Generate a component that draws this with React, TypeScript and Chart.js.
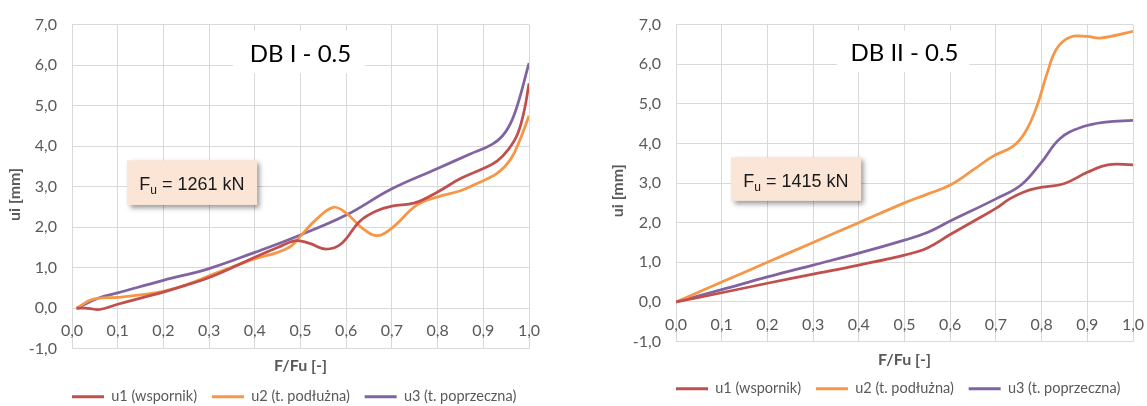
import React, { useEffect, useRef } from 'react';
import { Chart, registerables } from 'chart.js';

Chart.register(...registerables);

// ---------- data ----------
const seriesNames = ['u1 (wspornik)', 'u2 (t. podłużna)', 'u3 (t. poprzeczna)'];
const chartTitles = ['DB I - 0.5', 'DB II - 0.5'];
const fuValues = ['1261 kN', '1415 kN'];
const xAxisTitle = 'F/Fu [-]';
const yAxisTitle = 'ui [mm]';
const xTickValues = [0, 0.1, 0.2, 0.3, 0.4, 0.5, 0.6, 0.7, 0.8, 0.9, 1.0];
const yTickValues = [-1, 0, 1, 2, 3, 4, 5, 6, 7];

// DB I - 0.5
const dbI_u1_x = [0.01, 0.035, 0.06, 0.1, 0.15, 0.2, 0.25, 0.3, 0.35, 0.4, 0.45, 0.49, 0.52, 0.556, 0.59, 0.63, 0.67, 0.7, 0.75, 0.8, 0.85, 0.9, 0.93, 0.955, 0.975, 0.99, 1.0];
const dbI_u1_y = [0, 0, -0.03, 0.1, 0.25, 0.4, 0.57, 0.76, 1.0, 1.26, 1.5, 1.67, 1.6, 1.46, 1.6, 2.15, 2.42, 2.52, 2.6, 2.87, 3.2, 3.45, 3.63, 3.92, 4.3, 4.9, 5.55];
const dbI_u2_x = [0.01, 0.045, 0.1, 0.15, 0.2, 0.25, 0.3, 0.35, 0.4, 0.45, 0.48, 0.5, 0.535, 0.572, 0.6, 0.635, 0.667, 0.7, 0.755, 0.8, 0.85, 0.88, 0.93, 0.96, 0.98, 1.0];
const dbI_u2_y = [0, 0.22, 0.27, 0.33, 0.42, 0.58, 0.8, 1.02, 1.22, 1.38, 1.54, 1.78, 2.2, 2.49, 2.35, 1.98, 1.79, 1.98, 2.55, 2.75, 2.9, 3.05, 3.33, 3.68, 4.15, 4.75];
const dbI_u3_x = [0.01, 0.06, 0.1, 0.2, 0.3, 0.4, 0.5, 0.6, 0.7, 0.8, 0.87, 0.92, 0.948, 0.97, 1.0];
const dbI_u3_y = [0, 0.26, 0.38, 0.69, 0.98, 1.38, 1.81, 2.3, 2.95, 3.45, 3.8, 4.05, 4.34, 4.85, 6.05];

// DB II - 0.5
const dbII_u1_x = [0, 0.1, 0.2, 0.3, 0.4, 0.5, 0.55, 0.6, 0.65, 0.7, 0.73, 0.76, 0.79, 0.85, 0.9, 0.945, 1.0];
const dbII_u1_y = [0, 0.23, 0.47, 0.7, 0.93, 1.18, 1.36, 1.7, 2.03, 2.36, 2.6, 2.77, 2.87, 2.99, 3.27, 3.46, 3.46];
const dbII_u2_x = [0, 0.1, 0.2, 0.3, 0.4, 0.5, 0.55, 0.6, 0.65, 0.694, 0.738, 0.765, 0.79, 0.812, 0.833, 0.862, 0.9, 0.928, 1.0];
const dbII_u2_y = [0, 0.5, 1.0, 1.5, 2.0, 2.5, 2.72, 2.95, 3.33, 3.68, 3.93, 4.3, 4.95, 5.77, 6.39, 6.68, 6.7, 6.66, 6.83];
const dbII_u3_x = [0, 0.1, 0.2, 0.3, 0.4, 0.5, 0.55, 0.6, 0.7, 0.755, 0.8, 0.84, 0.89, 0.94, 1.0];
const dbII_u3_y = [0, 0.31, 0.63, 0.93, 1.23, 1.56, 1.75, 2.04, 2.6, 2.95, 3.53, 4.12, 4.42, 4.54, 4.58];

// ---------- styles ----------
const seriesColors = ['#C0504D', '#F79646', '#8064A2'];
const GRID = '#D9D9D9';
const TEXT = '#595959';
const FONT = 'Lato';

const zip = (xs: number[], ys: number[]) => xs.map((x, i) => ({ x, y: ys[i] }));
const fmt = (v: number) => v.toFixed(1).replace('.', ',');

const annotPlugin = {
  id: 'annot',
  beforeDatasetsDraw(chart: any, _args: any, opts: any) {
    const { ctx } = chart;
    const xs = chart.scales.x;
    const ys = chart.scales.y;
    ctx.save();
    // title box
    const tx0 = xs.getPixelForValue(0.352);
    const tx1 = xs.getPixelForValue(0.642);
    const ty0 = ys.getPixelForValue(6.85);
    const ty1 = ys.getPixelForValue(5.8);
    ctx.fillStyle = '#ffffff';
    ctx.fillRect(tx0, ty0, tx1 - tx0, ty1 - ty0);
    ctx.fillStyle = '#000000';
    ctx.font = `24px ${FONT}`;
    ctx.textAlign = 'center';
    ctx.textBaseline = 'middle';
    ctx.fillText(opts.title, xs.getPixelForValue(0.5), ys.getPixelForValue(6.27));

    // Fu box
    const bx0 = xs.getPixelForValue(0.12);
    const bx1 = xs.getPixelForValue(0.405);
    const by0 = ys.getPixelForValue(3.65);
    const by1 = ys.getPixelForValue(2.55);
    ctx.save();
    ctx.shadowColor = 'rgba(0,0,0,0.4)';
    ctx.shadowBlur = 5;
    ctx.shadowOffsetX = 3;
    ctx.shadowOffsetY = 3;
    ctx.fillStyle = '#FBE5D6';
    ctx.fillRect(bx0, by0, bx1 - bx0, by1 - by0);
    ctx.restore();

    const big = `18px "Liberation Sans", Arial, sans-serif`;
    const small = `12px "Liberation Sans", Arial, sans-serif`;
    const rest = ' = ' + opts.fu;
    ctx.textAlign = 'left';
    ctx.textBaseline = 'alphabetic';
    ctx.font = big;
    const wF = ctx.measureText('F').width;
    const wR = ctx.measureText(rest).width;
    ctx.font = small;
    const wU = ctx.measureText('u').width;
    const total = wF + wU + wR;
    const cx = (bx0 + bx1) / 2;
    const cy = (by0 + by1) / 2;
    const baseY = cy + 7.5;
    let x = cx - total / 2;
    ctx.fillStyle = '#1a1a1a';
    ctx.font = big;
    ctx.fillText('F', x, baseY);
    x += wF;
    ctx.font = small;
    ctx.fillText('u', x, baseY + 4);
    x += wU;
    ctx.font = big;
    ctx.fillText(rest, x, baseY);
    ctx.restore();
  },
};

type Params = {
  width: number;
  height: number;
  pad: { left: number; right: number; top: number; bottom: number };
  yWidth: number;
  yTitlePad: number;
  xTitlePadTop: number;
  xTitlePadBottom: number;
  xtHeight: number;
  series: { x: number[]; y: number[] }[];
  title: string;
  fu: string;
};

function makeConfig(p: Params): any {
  return {
    type: 'line',
    data: {
      datasets: p.series.map((s, i) => ({
        label: seriesNames[i],
        data: zip(s.x, s.y),
        borderColor: seriesColors[i],
        backgroundColor: seriesColors[i],
        borderWidth: 2.75,
        pointRadius: 0,
        pointHoverRadius: 0,
        tension: 0.4,
        fill: false,
        xAxisID: 'x',
        yAxisID: 'y',
      })),
    },
    options: {
      animation: false,
      responsive: false,
      events: [],
      layout: { padding: p.pad },
      scales: {
        x: {
          type: 'linear',
          position: { y: 0 },
          min: 0,
          max: 1,
          afterBuildTicks: (s: any) => {
            s.ticks = xTickValues.map((v) => ({ value: v }));
          },
          afterFit: (s: any) => {
            s.height = 0;
            s.paddingLeft = 0;
            s.paddingRight = 0;
          },
          ticks: {
            callback: (v: number) => fmt(v),
            color: TEXT,
            font: { family: FONT, size: 16 },
            padding: 13,
            maxRotation: 0,
            autoSkip: false,
          },
          grid: { color: GRID, lineWidth: 1, drawTicks: false },
          border: { display: false },
        },
        xt: {
          type: 'linear',
          position: 'bottom',
          display: true,
          min: 0,
          max: 1,
          afterFit: (s: any) => {
            s.height = p.xtHeight;
            s.paddingLeft = 0;
            s.paddingRight = 0;
          },
          ticks: { display: false },
          grid: { display: false, drawTicks: false },
          border: { display: false },
          title: {
            display: true,
            text: xAxisTitle,
            color: TEXT,
            font: { family: FONT, size: 16, weight: 'bold' },
            padding: { top: p.xTitlePadTop, bottom: p.xTitlePadBottom },
          },
        },
        y: {
          type: 'linear',
          position: 'left',
          min: -1,
          max: 7,
          afterBuildTicks: (s: any) => {
            s.ticks = yTickValues.map((v) => ({ value: v }));
          },
          afterFit: (s: any) => {
            s.width = p.yWidth;
          },
          ticks: {
            callback: (v: number) => fmt(v),
            color: TEXT,
            font: { family: FONT, size: 16 },
            padding: 15,
          },
          grid: { color: GRID, lineWidth: 1, drawTicks: false },
          border: { display: false },
          title: {
            display: true,
            text: yAxisTitle + '    ',
            color: TEXT,
            font: { family: FONT, size: 16, weight: 'bold' },
            padding: { top: p.yTitlePad, bottom: 0 },
          },
        },
      },
      plugins: {
        tooltip: { enabled: false },
        title: { display: false },
        annot: { title: p.title, fu: p.fu },
        legend: {
          display: true,
          position: 'bottom',
          align: 'start',
          fullSize: false,
          labels: {
            boxWidth: 32,
            boxHeight: 3,
            padding: 0,
            color: TEXT,
            font: { family: FONT, size: 14.5 },
            generateLabels: (chart: any) =>
              chart.data.datasets.map((ds: any, i: number) => ({
                text: ds.label + (i < chart.data.datasets.length - 1 ? '    ' : ''),
                fillStyle: ds.borderColor,
                strokeStyle: ds.borderColor,
                lineWidth: 0,
                hidden: false,
                datasetIndex: i,
                fontColor: TEXT,
              })),
          },
        },
      },
    },
    plugins: [annotPlugin],
  };
}

function ChartBox({ params, left }: { params: Params; left: number }) {
  const ref = useRef<HTMLCanvasElement | null>(null);
  useEffect(() => {
    if (!ref.current) return;
    const chart = new Chart(ref.current, makeConfig(params));
    return () => chart.destroy();
  }, []);
  return (
    <div style={{ position: 'absolute', left, top: 0, width: params.width, height: params.height }}>
      <canvas
        ref={ref}
        width={params.width}
        height={params.height}
        style={{ width: params.width, height: params.height, display: 'block' }}
      />
    </div>
  );
}

const leftParams: Params = {
  width: 560,
  height: 420,
  pad: { left: 0, right: 31, top: 20.7, bottom: 6 },
  yWidth: 72,
  yTitlePad: 5.4,
  xTitlePadTop: 7.1,
  xTitlePadBottom: 14.4,
  xtHeight: 40.7,
  series: [
    { x: dbI_u1_x, y: dbI_u1_y },
    { x: dbI_u2_x, y: dbI_u2_y },
    { x: dbI_u3_x, y: dbI_u3_y },
  ],
  title: chartTitles[0],
  fu: fuValues[0],
};

const rightParams: Params = {
  width: 567,
  height: 420,
  pad: { left: 0, right: 14, top: 20.7, bottom: 14 },
  yWidth: 96,
  yTitlePad: 28.4,
  xTitlePadTop: 8.4,
  xTitlePadBottom: 12.4,
  xtHeight: 40,
  series: [
    { x: dbII_u1_x, y: dbII_u1_y },
    { x: dbII_u2_x, y: dbII_u2_y },
    { x: dbII_u3_x, y: dbII_u3_y },
  ],
  title: chartTitles[1],
  fu: fuValues[1],
};

export default function App() {
  return (
    <div
      style={{
        position: 'fixed',
        left: 0,
        top: 0,
        width: 1147,
        height: 406,
        overflow: 'hidden',
        background: '#ffffff',
      }}
    >
      <ChartBox params={leftParams} left={0} />
      <ChartBox params={rightParams} left={580} />
    </div>
  );
}
